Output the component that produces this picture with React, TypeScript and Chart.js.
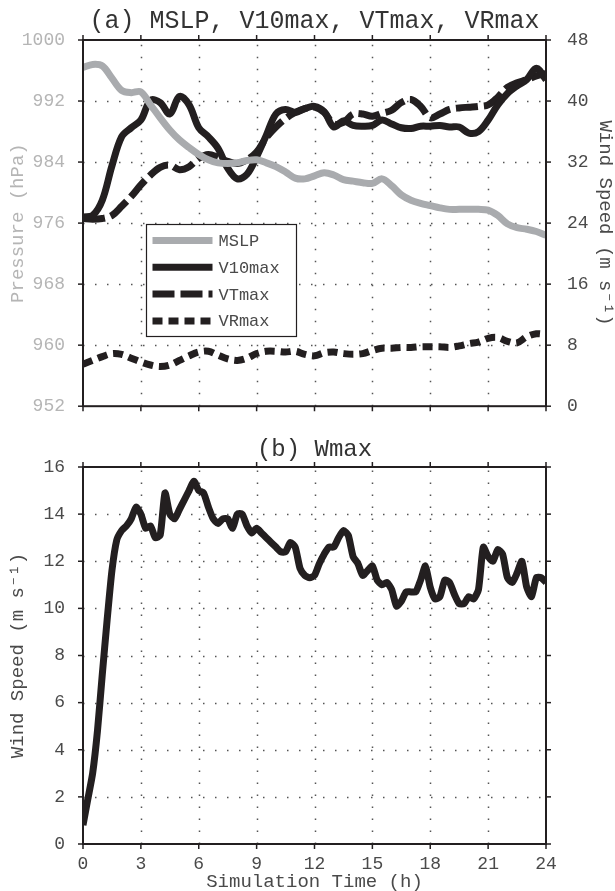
import React, { useEffect, useRef } from "react";
import { Chart, registerables } from "chart.js";

Chart.register(...registerables);

const FONT = "'Liberation Mono', 'Courier New', monospace";
const BLACK = "#231f20";
const GRAY_LINE = "#a9abae";
const GRID = "#555555";
const TEXT = "#4a4a4a";
const LIGHT_TEXT = "#b5b5b5";

// ---------- Panel (a) ----------
const TIME_A = [
  0, 0.5, 1, 1.5, 2, 2.5, 3, 3.5, 4, 4.5, 5, 5.5, 6, 6.5, 7, 7.5, 8, 8.5, 9, 9.5,
  10, 10.5, 11, 11.5, 12, 12.5, 13, 13.5, 14, 14.5, 15, 15.5, 16, 16.5, 17, 17.5,
  18, 18.5, 19, 19.5, 20, 20.5, 21, 21.5, 22, 22.5, 23, 23.5, 24,
];
const MSLP = [
  996.4, 996.8, 996.6, 995.0, 993.4, 993.1, 993.2, 991.5, 989.8, 988.2, 986.9, 985.9,
  985.0, 984.3, 983.9, 983.8, 983.9, 984.2, 984.3, 983.9, 983.4, 982.7, 981.9, 981.8,
  982.2, 982.6, 982.3, 981.7, 981.5, 981.3, 981.2, 981.8, 980.9, 979.7, 979.0, 978.6,
  978.3, 978.0, 977.8, 977.8, 977.8, 977.8, 977.7, 977.0, 975.9, 975.4, 975.2, 974.9,
  974.4,
];
const V10MAX = [
  24.8, 25.0, 27.0, 31.5, 35.3, 36.5, 37.5, 40.1, 39.8, 38.3, 40.6, 39.5, 36.5, 35.3,
  33.8, 31.2, 29.8, 30.4, 32.7, 35.5, 38.3, 38.9, 38.5, 39.0, 39.3, 38.6, 36.6, 37.4,
  36.8, 36.7, 36.8, 37.5, 37.0, 36.5, 36.4, 36.7, 36.7, 36.8, 36.6, 36.6, 35.8, 36.0,
  37.5, 39.5, 41.0, 42.0, 42.8, 44.3, 42.8,
];
const VTMAX = [
  24.6, 24.5, 24.6, 25.0, 26.2, 27.5, 29.0, 30.3, 31.3, 31.6, 31.0, 31.4, 32.5, 33.0,
  32.6, 32.1, 31.8, 32.3, 33.3, 35.2, 36.6, 37.7, 38.5, 39.0, 39.2, 38.5, 37.0, 37.2,
  38.3, 38.3, 38.0, 38.4, 38.8, 39.8, 40.2, 39.3, 37.8, 38.3, 38.9, 39.1, 39.2, 39.3,
  39.5, 40.5, 41.8, 42.4, 42.8, 43.3, 43.6,
];
const VRMAX = [
  5.5, 6.0, 6.5, 6.9, 6.8, 6.3, 5.8, 5.4, 5.2, 5.4, 6.0, 6.6, 7.1, 7.2, 6.7, 6.2, 6.0,
  6.3, 6.9, 7.2, 7.2, 7.1, 7.2, 6.8, 6.6, 7.0, 7.1, 6.9, 6.8, 6.9, 7.3, 7.6, 7.6, 7.7,
  7.7, 7.8, 7.8, 7.8, 7.7, 7.9, 8.2, 8.4, 8.9, 9.0, 8.5, 8.3, 9.1, 9.5, 9.4,
];

// ---------- Panel (b) ----------
const TIME_B = [
  0, 0.25, 0.5, 0.75, 1, 1.25, 1.5, 1.75, 2, 2.25, 2.5, 2.75, 3, 3.25, 3.5, 3.75, 4,
  4.25, 4.5, 4.75, 5, 5.25, 5.5, 5.75, 6, 6.25, 6.5, 6.75, 7, 7.25, 7.5, 7.75, 8, 8.25,
  8.5, 8.75, 9, 9.25, 9.5, 9.75, 10, 10.25, 10.5, 10.75, 11, 11.25, 11.5, 11.75, 12,
  12.25, 12.5, 12.75, 13, 13.25, 13.5, 13.75, 14, 14.25, 14.5, 14.75, 15, 15.25, 15.5,
  15.75, 16, 16.25, 16.5, 16.75, 17, 17.25, 17.5, 17.75, 18, 18.25, 18.5, 18.75, 19,
  19.25, 19.5, 19.75, 20, 20.25, 20.5, 20.75, 21, 21.25, 21.5, 21.75, 22, 22.25, 22.5,
  22.75, 23, 23.25, 23.5, 23.75, 24,
];
const WMAX = [
  0.8, 1.9, 3.0, 4.8, 7.2, 9.5, 11.6, 12.9, 13.3, 13.5, 13.8, 14.3, 14.0, 13.4, 13.5,
  13.0, 13.1, 14.9, 14.0, 13.8, 14.2, 14.6, 15.0, 15.4, 15.0, 14.9, 14.3, 13.8, 13.6,
  13.8, 13.8, 13.4, 14.0, 14.0, 13.5, 13.2, 13.4, 13.2, 13.0, 12.8, 12.6, 12.4, 12.4,
  12.8, 12.6, 11.7, 11.4, 11.3, 11.4, 11.9, 12.3, 12.6, 12.6, 13.0, 13.3, 13.1, 12.2,
  11.9, 11.4, 11.6, 11.8, 11.2, 11.0, 11.1, 10.8, 10.1, 10.3, 10.7, 10.7, 10.7, 11.2,
  11.8, 10.9, 10.4, 10.5, 11.2, 11.1, 10.6, 10.2, 10.2, 10.5, 10.4, 10.8, 12.6, 12.2,
  12.0, 12.5, 12.3, 11.3, 11.1, 11.5, 12.0, 10.9, 10.5, 11.3, 11.3, 11.1,
];

const SERIES_A_LABELS = ["MSLP", "V10max", "VTmax", "VRmax"];
const TITLE_A = "(a) MSLP, V10max, VTmax, VRmax";
const TITLE_B = "(b) Wmax";
const X_TITLE = "Simulation Time (h)";
const WIND_TITLE = "Wind Speed (m s\u207B\u00B9)";
const P_TITLE = "Pressure (hPa)";

const pts = (xs: number[], ys: number[]) => xs.map((x, i) => ({ x, y: ys[i] }));
const plain = (v: any) => String(v);

function decorPlugin(cfg: {
  title: string;
  titleSize: number;
  titleY: number;
  yLeft: string;
  yRight: string;
  legend: boolean;
}) {
  return {
    id: "decor",
    beforeDatasetsDraw(chart: any) {
      const { ctx, chartArea: a, scales } = chart;
      ctx.save();
      ctx.strokeStyle = GRID;
      ctx.lineWidth = 1.5;
      ctx.setLineDash([1.5, 10.5]);
      const xs = scales.x;
      xs.ticks.forEach((t: any) => {
        const px = Math.round(xs.getPixelForValue(t.value)) + 0.5;
        if (px <= a.left + 2 || px >= a.right - 2) return;
        ctx.beginPath();
        ctx.moveTo(px, a.bottom);
        ctx.lineTo(px, a.top);
        ctx.stroke();
      });
      const ys = scales[cfg.yLeft];
      ys.ticks.forEach((t: any) => {
        const py = Math.round(ys.getPixelForValue(t.value)) + 0.5;
        if (py <= a.top + 2 || py >= a.bottom - 2) return;
        ctx.beginPath();
        ctx.moveTo(a.left, py);
        ctx.lineTo(a.right, py);
        ctx.stroke();
      });
      ctx.restore();
    },
    afterDatasetsDraw(chart: any) {
      const { ctx, chartArea: a, scales } = chart;
      ctx.save();
      ctx.setLineDash([]);
      ctx.strokeStyle = BLACK;
      ctx.lineWidth = 2;
      ctx.strokeRect(a.left, a.top, a.right - a.left, a.bottom - a.top);
      ctx.lineWidth = 1.5;
      const tl = 5;
      const xs = scales.x;
      xs.ticks.forEach((t: any) => {
        const px = xs.getPixelForValue(t.value);
        ctx.beginPath();
        ctx.moveTo(px, a.bottom);
        ctx.lineTo(px, a.bottom + tl);
        ctx.moveTo(px, a.top);
        ctx.lineTo(px, a.top - tl);
        ctx.stroke();
      });
      const yl = scales[cfg.yLeft];
      yl.ticks.forEach((t: any) => {
        const py = yl.getPixelForValue(t.value);
        ctx.beginPath();
        ctx.moveTo(a.left, py);
        ctx.lineTo(a.left - tl, py);
        ctx.stroke();
      });
      const yr = scales[cfg.yRight];
      yr.ticks.forEach((t: any) => {
        const py = yr.getPixelForValue(t.value);
        ctx.beginPath();
        ctx.moveTo(a.right, py);
        ctx.lineTo(a.right + tl, py);
        ctx.stroke();
      });
      ctx.restore();
    },
    afterDraw(chart: any) {
      const { ctx, chartArea: a } = chart;
      ctx.save();
      ctx.fillStyle = "#333333";
      ctx.font = `${cfg.titleSize}px ${FONT}`;
      ctx.textAlign = "center";
      ctx.textBaseline = "middle";
      ctx.fillText(cfg.title, (a.left + a.right) / 2, cfg.titleY);
      if (cfg.legend) {
        const lx = a.left + 63.5;
        const ly = a.top + 184.5;
        const lw = 150;
        const lh = 112;
        ctx.fillStyle = "#ffffff";
        ctx.fillRect(lx, ly, lw, lh);
        ctx.strokeStyle = BLACK;
        ctx.lineWidth = 1.2;
        ctx.strokeRect(lx, ly, lw, lh);
        chart.data.datasets.forEach((ds: any, i: number) => {
          const yy = ly + 16 + i * 26.8;
          ctx.save();
          ctx.strokeStyle = ds.borderColor;
          ctx.lineWidth = ds.borderWidth;
          ctx.lineCap = "butt";
          ctx.setLineDash(ds.borderDash || []);
          ctx.beginPath();
          ctx.moveTo(lx + 6, yy);
          ctx.lineTo(lx + 66, yy);
          ctx.stroke();
          ctx.restore();
          ctx.fillStyle = TEXT;
          ctx.font = `17px ${FONT}`;
          ctx.textAlign = "left";
          ctx.textBaseline = "middle";
          ctx.fillText(ds.label, lx + 72, yy + 1);
        });
      }
      ctx.restore();
    },
  };
}

const tickFont = { family: FONT, size: 18 };
const titleFont = { family: FONT, size: 19, lineHeight: 1 };

export default function App() {
  const topRef = useRef<HTMLCanvasElement>(null);
  const botRef = useRef<HTMLCanvasElement>(null);

  useEffect(() => {
    const lineBase = {
      pointRadius: 0,
      borderJoinStyle: "round" as const,
      borderCapStyle: "butt" as const,
      tension: 0.35,
      fill: false,
    };
    const c1 = new Chart(topRef.current!, {
      type: "line",
      data: {
        datasets: [
          { ...lineBase, label: SERIES_A_LABELS[0], data: pts(TIME_A, MSLP), yAxisID: "yP", borderColor: GRAY_LINE, borderWidth: 7 },
          { ...lineBase, label: SERIES_A_LABELS[1], data: pts(TIME_A, V10MAX), yAxisID: "yW", borderColor: BLACK, borderWidth: 7 },
          { ...lineBase, label: SERIES_A_LABELS[2], data: pts(TIME_A, VTMAX), yAxisID: "yW", borderColor: BLACK, borderWidth: 7, borderDash: [22, 6] },
          { ...lineBase, label: SERIES_A_LABELS[3], data: pts(TIME_A, VRMAX), yAxisID: "yW", borderColor: BLACK, borderWidth: 7, borderDash: [10, 6] },
        ],
      } as any,
      options: {
        responsive: false,
        animation: false,
        devicePixelRatio: 1,
        layout: { padding: { top: 40, left: 0, right: 0, bottom: 0 } },
        plugins: { legend: { display: false }, tooltip: { enabled: false }, title: { display: false } },
        scales: {
          x: {
            type: "linear",
            position: "bottom",
            min: 0,
            max: 24,
            ticks: { stepSize: 3, display: false },
            grid: { display: false },
            border: { display: false },
            afterFit: (s: any) => { s.height = 14; },
          },
          yP: {
            type: "linear",
            position: "left",
            min: 952,
            max: 1000,
            ticks: { stepSize: 8, color: LIGHT_TEXT, font: tickFont, padding: 10, callback: plain },
            grid: { display: false },
            border: { display: false },
            title: { display: true, text: P_TITLE, color: LIGHT_TEXT, font: titleFont, padding: { top: 8.5, bottom: 0 } },
            afterFit: (s: any) => { s.width = 83; },
          },
          yW: {
            type: "linear",
            position: "right",
            min: 0,
            max: 48,
            ticks: { stepSize: 8, color: TEXT, font: tickFont, padding: 13, callback: plain },
            grid: { display: false },
            border: { display: false },
            title: { display: true, text: WIND_TITLE, color: TEXT, font: titleFont, padding: { top: 0.5, bottom: 0 } },
            afterFit: (s: any) => { s.width = 69; },
          },
        },
      } as any,
      plugins: [decorPlugin({ title: TITLE_A, titleSize: 25, titleY: 21, yLeft: "yP", yRight: "yW", legend: true })],
    });

    const c2 = new Chart(botRef.current!, {
      type: "line",
      data: {
        datasets: [
          { ...lineBase, tension: 0.2, label: "Wmax", data: pts(TIME_B, WMAX), borderColor: BLACK, borderWidth: 7 },
        ],
      } as any,
      options: {
        responsive: false,
        animation: false,
        devicePixelRatio: 1,
        layout: { padding: { top: 37, left: 0, right: 69, bottom: 0 } },
        plugins: { legend: { display: false }, tooltip: { enabled: false }, title: { display: false } },
        scales: {
          x: {
            type: "linear",
            position: "bottom",
            min: 0,
            max: 24,
            ticks: { stepSize: 3, color: TEXT, font: tickFont, padding: 1, autoSkip: false, maxRotation: 0, callback: plain },
            grid: { display: false },
            border: { display: false },
            title: { display: true, text: X_TITLE, color: TEXT, font: titleFont, padding: { top: 0, bottom: 0 } },
            afterFit: (s: any) => { s.height = 47; },
          },
          y: {
            type: "linear",
            position: "left",
            min: 0,
            max: 16,
            ticks: { stepSize: 2, color: TEXT, font: tickFont, padding: 10, callback: plain },
            grid: { display: false },
            border: { display: false },
            title: { display: true, text: WIND_TITLE, color: TEXT, font: titleFont, padding: { top: 8.5, bottom: 0 } },
            afterFit: (s: any) => { s.width = 83; },
          },
        },
      } as any,
      plugins: [decorPlugin({ title: TITLE_B, titleSize: 24, titleY: 20, yLeft: "y", yRight: "y", legend: false })],
    });

    return () => {
      c1.destroy();
      c2.destroy();
    };
  }, []);

  return (
    <div style={{ position: "absolute", left: 0, top: 0, width: 615, height: 891, background: "#ffffff" }}>
      <canvas ref={topRef} width={615} height={430} style={{ position: "absolute", left: 0, top: 0, width: 615, height: 430 }} />
      <canvas ref={botRef} width={615} height={461} style={{ position: "absolute", left: 0, top: 430, width: 615, height: 461 }} />
    </div>
  );
}
